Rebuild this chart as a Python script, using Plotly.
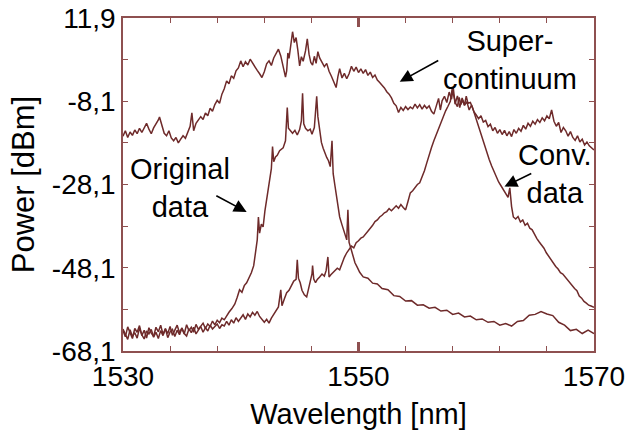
import plotly.graph_objects as go

# ---------------- data ----------------
sc_wl = [1530.0,1530.2,1530.4,1530.6,1530.8,1531.0,1531.2,1531.4,1531.6,1531.8,1532.0,1532.2,1532.4,1532.6,1532.8,1533.0,1533.1,1533.3,1533.5,1533.7,1533.9,1534.1,1534.3,1534.5,1534.7,1534.9,1535.1,1535.3,1535.5,1535.7,1535.85,1536.0,1536.2,1536.4,1536.6,1536.8,1537.0,1537.2,1537.4,1537.6,1537.8,1538.0,1538.2,1538.4,1538.6,1538.8,1539.0,1539.2,1539.4,1539.6,1539.8,1540.0,1540.2,1540.4,1540.6,1540.8,1541.0,1541.2,1541.4,1541.6,1541.8,1542.0,1542.2,1542.4,1542.6,1542.8,1543.0,1543.2,1543.4,1543.6,1543.8,1543.9,1544.0,1544.1,1544.25,1544.4,1544.55,1544.7,1544.85,1545.0,1545.15,1545.3,1545.5,1545.65,1545.8,1545.95,1546.1,1546.25,1546.4,1546.55,1546.7,1546.9,1547.1,1547.3,1547.5,1547.7,1547.9,1548.1,1548.25,1548.4,1548.6,1548.8,1549.0,1549.2,1549.4,1549.6,1549.8,1550.0,1550.2,1550.4,1550.6,1550.8,1551.0,1551.2,1551.4,1551.6,1551.8,1552.0,1552.2,1552.4,1552.6,1552.8,1553.0,1553.2,1553.4,1553.6,1553.8,1554.0,1554.2,1554.4,1554.6,1554.8,1555.0,1555.2,1555.4,1555.6,1555.8,1556.0,1556.2,1556.4,1556.6,1556.8,1556.95,1557.1,1557.3,1557.5,1557.7,1557.9,1558.05,1558.2,1558.4,1558.6,1558.8,1559.0,1559.2,1559.4,1559.6,1559.8,1560.0,1560.2,1560.4,1560.6,1560.8,1561.0,1561.2,1561.4,1561.6,1561.8,1562.0,1562.2,1562.4,1562.6,1562.8,1563.0,1563.2,1563.4,1563.6,1563.8,1564.0,1564.2,1564.4,1564.6,1564.8,1565.0,1565.2,1565.4,1565.6,1565.8,1566.0,1566.2,1566.4,1566.6,1566.8,1567.0,1567.2,1567.4,1567.6,1567.8,1568.0,1568.2,1568.4,1568.6,1568.8,1569.0,1569.2,1569.4,1569.6,1569.8,1570.0]
sc_pw = [-16.5,-15.2,-16.8,-15.5,-16.3,-15.0,-15.9,-14.6,-15.6,-14.3,-13.4,-14.8,-15.9,-14.5,-13.6,-12.6,-11.9,-14.0,-15.8,-16.4,-15.2,-16.9,-17.6,-16.8,-18.1,-17.2,-16.4,-17.0,-15.3,-14.1,-10.9,-15.2,-13.4,-12.6,-11.8,-12.5,-10.9,-11.6,-9.8,-10.5,-8.9,-7.9,-8.6,-6.4,-5.1,-3.2,-3.9,-2.0,-2.6,-0.8,-0.1,1.6,0.2,1.4,0.6,2.0,1.0,0.0,-0.7,-1.5,-2.4,-1.0,0.9,1.6,0.5,2.3,3.2,4.4,2.8,0.5,-2.3,-0.8,3.5,2.2,5.2,8.6,6.0,7.2,4.1,0.4,2.6,1.5,4.0,6.9,3.2,1.2,0.6,2.7,1.0,3.8,2.3,1.1,0.2,1.0,-0.9,-2.1,-3.6,-4.8,-2.2,-0.3,-2.5,-1.4,-2.7,-1.5,0.3,-0.9,0.1,-1.2,-0.3,-1.4,-0.5,-1.9,-1.1,-2.4,-1.8,-3.0,-3.6,-4.2,-4.9,-5.8,-6.4,-7.3,-8.6,-9.2,-10.8,-9.6,-10.3,-9.4,-10.1,-9.5,-9.9,-8.8,-9.7,-8.9,-10.0,-9.1,-9.8,-9.2,-10.5,-11.2,-9.4,-7.4,-10.2,-8.0,-6.9,-8.4,-5.9,-7.6,-4.9,-8.8,-6.8,-9.6,-7.3,-9.1,-8.2,-10.2,-9.0,-10.6,-11.4,-12.3,-11.6,-13.1,-12.7,-14.2,-13.6,-15.2,-14.4,-15.8,-14.9,-16.1,-15.1,-16.4,-15.4,-16.6,-14.9,-15.8,-14.6,-15.3,-13.9,-14.8,-13.4,-14.1,-12.9,-13.6,-12.5,-13.2,-12.1,-12.8,-11.6,-12.3,-10.2,-12.9,-14.1,-13.2,-15.6,-14.4,-15.2,-16.5,-15.4,-16.8,-17.5,-16.4,-17.9,-17.2,-18.6,-17.9,-18.8,-19.3,-19.8]

od_wl = [1530.0,1530.2,1530.4,1530.6,1530.8,1531.0,1531.2,1531.4,1531.6,1531.8,1532.0,1532.2,1532.4,1532.6,1532.8,1533.0,1533.2,1533.4,1533.6,1533.8,1534.0,1534.2,1534.4,1534.6,1534.8,1535.0,1535.2,1535.4,1535.6,1535.8,1536.0,1536.2,1536.4,1536.6,1536.8,1537.0,1537.2,1537.4,1537.6,1537.8,1538.0,1538.2,1538.4,1538.6,1538.8,1539.0,1539.25,1539.5,1539.7,1539.9,1540.1,1540.3,1540.5,1540.7,1540.9,1541.1,1541.25,1541.4,1541.5,1541.6,1541.75,1541.9,1542.05,1542.2,1542.35,1542.5,1542.6,1542.7,1542.8,1542.95,1543.1,1543.3,1543.45,1543.6,1543.8,1543.95,1544.05,1544.2,1544.4,1544.6,1544.8,1545.0,1545.15,1545.25,1545.35,1545.5,1545.7,1545.9,1546.05,1546.25,1546.45,1546.55,1546.7,1546.85,1547.0,1547.15,1547.3,1547.45,1547.6,1547.75,1547.85,1548.0,1548.2,1548.4,1548.6,1548.8,1549.0,1549.1,1549.2,1549.35,1549.5,1549.7,1549.9,1550.1,1550.4,1550.8,1551.2,1551.6,1552.0,1552.5,1553.0,1553.5,1554.0,1554.5,1555.0,1555.5,1556.0,1556.5,1557.0,1557.5,1558.0,1558.5,1559.0,1559.5,1560.0,1560.5,1561.0,1561.5,1562.0,1562.5,1563.0,1563.5,1564.0,1564.5,1565.0,1565.5,1566.0,1566.5,1567.0,1567.5,1568.0,1568.5,1569.0,1569.5,1570.0]
od_pw = [-63.2,-64.7,-62.3,-63.9,-65.1,-62.7,-63.6,-62.0,-64.4,-63.1,-65.0,-62.5,-63.8,-64.6,-62.4,-63.5,-61.9,-64.1,-62.8,-63.9,-62.2,-64.3,-63.0,-61.9,-63.7,-62.6,-64.0,-61.8,-63.2,-62.4,-63.6,-61.7,-62.9,-62.1,-61.4,-62.7,-61.6,-62.2,-60.9,-61.8,-60.7,-61.3,-60.2,-60.6,-59.6,-58.8,-57.9,-56.8,-55.2,-53.4,-54.0,-52.4,-51.7,-50.6,-49.3,-47.6,-44.6,-41.4,-35.9,-39.8,-37.6,-38.3,-34.5,-31.8,-28.6,-26.2,-24.3,-19.0,-22.6,-21.5,-21.1,-20.0,-19.6,-19.3,-17.6,-9.6,-14.6,-15.2,-15.8,-15.1,-16.2,-14.9,-12.8,-6.2,-13.5,-14.6,-15.2,-14.8,-16.0,-14.4,-6.9,-11.8,-15.6,-18.0,-19.4,-20.7,-21.6,-22.4,-23.8,-17.6,-25.5,-28.4,-32.0,-35.9,-37.8,-39.6,-41.4,-34.2,-42.0,-43.4,-45.2,-46.9,-48.0,-49.2,-50.3,-50.6,-51.8,-52.0,-53.1,-53.4,-54.8,-55.0,-56.1,-56.0,-57.1,-57.0,-57.8,-57.6,-58.5,-58.3,-59.3,-59.0,-59.9,-59.7,-60.6,-60.4,-61.2,-61.0,-61.9,-61.5,-62.1,-61.0,-60.8,-59.5,-59.3,-58.6,-59.2,-59.6,-61.2,-61.9,-63.2,-62.9,-63.9,-63.1,-63.9]

cd_wl = [1530.0,1530.2,1530.4,1530.6,1530.8,1531.0,1531.2,1531.4,1531.6,1531.8,1532.0,1532.2,1532.4,1532.6,1532.8,1533.0,1533.2,1533.4,1533.6,1533.8,1534.0,1534.2,1534.4,1534.6,1534.8,1535.0,1535.2,1535.4,1535.6,1535.8,1536.0,1536.2,1536.4,1536.6,1536.8,1537.0,1537.2,1537.4,1537.6,1537.8,1538.0,1538.2,1538.4,1538.6,1538.8,1539.0,1539.2,1539.4,1539.6,1539.8,1540.0,1540.2,1540.4,1540.6,1540.8,1541.0,1541.2,1541.4,1541.6,1541.8,1542.0,1542.2,1542.4,1542.6,1542.8,1543.0,1543.2,1543.4,1543.5,1543.7,1543.9,1544.1,1544.3,1544.5,1544.7,1544.8,1544.9,1545.05,1545.2,1545.4,1545.6,1545.75,1545.9,1546.05,1546.1,1546.2,1546.35,1546.5,1546.7,1546.9,1547.1,1547.25,1547.4,1547.5,1547.65,1547.8,1548.0,1548.2,1548.4,1548.6,1548.8,1549.0,1549.2,1549.4,1549.6,1549.8,1550.0,1550.2,1550.4,1550.6,1550.8,1551.0,1551.2,1551.4,1551.6,1551.8,1552.0,1552.2,1552.4,1552.6,1552.8,1553.0,1553.2,1553.4,1553.6,1553.8,1554.0,1554.2,1554.4,1554.6,1554.8,1555.0,1555.2,1555.4,1555.6,1555.8,1556.0,1556.2,1556.4,1556.6,1556.8,1557.0,1557.2,1557.4,1557.6,1557.8,1557.95,1558.1,1558.25,1558.4,1558.55,1558.7,1558.85,1559.0,1559.15,1559.3,1559.5,1559.7,1559.9,1560.1,1560.3,1560.5,1560.7,1560.9,1561.1,1561.3,1561.5,1561.7,1561.9,1562.1,1562.3,1562.5,1562.7,1562.85,1563.0,1563.15,1563.35,1563.55,1563.75,1563.95,1564.15,1564.35,1564.55,1564.75,1564.95,1565.15,1565.35,1565.55,1565.75,1565.95,1566.15,1566.35,1566.55,1566.75,1566.95,1567.15,1567.35,1567.55,1567.75,1567.95,1568.15,1568.35,1568.55,1568.75,1568.95,1569.15,1569.35,1569.55,1569.75,1570.0]
cd_pw = [-62.8,-64.1,-65.3,-63.0,-64.6,-63.7,-65.0,-62.6,-64.2,-65.2,-63.3,-64.0,-62.9,-64.8,-63.6,-65.1,-63.2,-64.4,-62.7,-64.9,-63.5,-62.9,-64.6,-63.1,-64.2,-62.6,-63.9,-64.5,-62.8,-63.7,-62.4,-64.0,-63.0,-62.2,-63.6,-62.5,-63.3,-61.9,-62.8,-62.3,-61.6,-62.7,-61.8,-62.1,-61.0,-61.9,-60.6,-61.4,-60.1,-61.0,-60.3,-59.4,-60.5,-59.2,-59.9,-58.8,-59.5,-58.6,-59.8,-60.6,-61.2,-60.5,-61.4,-60.2,-59.3,-58.6,-57.5,-53.4,-57.2,-55.6,-54.1,-53.5,-52.4,-51.3,-50.9,-46.2,-50.6,-51.7,-53.5,-54.6,-55.1,-53.0,-51.0,-49.6,-47.6,-50.8,-51.7,-50.9,-50.3,-49.6,-50.1,-48.8,-45.5,-50.3,-49.8,-49.3,-48.9,-48.2,-48.6,-46.9,-45.6,-44.5,-43.6,-42.9,-43.3,-42.1,-41.6,-41.0,-40.7,-39.9,-39.1,-38.6,-37.9,-37.0,-36.6,-35.9,-35.5,-34.9,-34.6,-33.9,-34.4,-33.7,-33.2,-33.8,-32.9,-33.6,-34.2,-32.2,-30.1,-29.6,-28.9,-28.1,-27.7,-26.4,-24.8,-22.9,-20.8,-19.2,-17.6,-16.1,-14.7,-12.9,-11.8,-10.4,-9.3,-8.1,-5.2,-7.0,-8.6,-9.4,-7.2,-8.9,-7.8,-9.0,-6.9,-8.6,-8.4,-9.8,-11.6,-13.2,-15.1,-17.0,-18.8,-20.4,-22.1,-23.6,-24.9,-26.4,-27.5,-28.4,-29.4,-30.2,-31.2,-28.9,-33.4,-35.9,-36.4,-35.8,-37.1,-36.6,-37.9,-37.4,-38.6,-39.0,-40.2,-41.1,-41.9,-42.6,-43.4,-44.5,-45.3,-46.4,-46.9,-47.8,-48.4,-49.3,-49.6,-50.3,-51.1,-51.6,-52.4,-53.1,-53.6,-54.9,-55.4,-56.2,-56.6,-57.1,-57.3,-57.6]

x_tickvals = [1530, 1550, 1570]
x_ticktext = ["1530", "1550", "1570"]
y_tickvals = [11.9, -8.1, -28.1, -48.1, -68.1]
y_ticktext = ["11,9", "-8,1", "-28,1", "-48,1", "-68,1"]
y_minorvals = [1.9, -18.1, -38.1, -58.1]

labels = ["Super-<br>continuum", "Original<br>data", "Conv.<br>data"]
label_pos = [(1562.9, 1.7), (1534.8, -29.0), (1566.7, -25.6)]
arrows = [((1556.9, 1.9), (1553.5, -3.4)),
          ((1537.8, -30.6), (1540.5, -34.7)),
          ((1564.8, -25.3), (1562.4, -28.6))]

# ---------------- figure ----------------
LINE = "#6E2A2A"
AXIS = "#8E5050"
FONT = "Liberation Sans, Arial, sans-serif"

fig = go.Figure()
for wl, pw in [(sc_wl, sc_pw), (cd_wl, cd_pw), (od_wl, od_pw)]:
    fig.add_trace(go.Scatter(x=wl, y=pw, mode="lines",
                             line=dict(color=LINE, width=1.5), showlegend=False))

for txt, (lx, ly) in zip(labels, label_pos):
    fig.add_annotation(x=lx, y=ly, xref="x", yref="y", text=txt, showarrow=False,
                       font=dict(family=FONT, size=29, color="black"),
                       align="center", xanchor="center", yanchor="middle")
for (tail, head) in arrows:
    fig.add_annotation(x=head[0], y=head[1], ax=tail[0], ay=tail[1],
                       xref="x", yref="y", axref="x", ayref="y", text="",
                       showarrow=True, arrowhead=2, arrowsize=1.6, arrowwidth=1.6,
                       arrowcolor="black", standoff=0, startstandoff=0)

fig.update_layout(
    width=628, height=440,
    margin=dict(l=123, r=34, t=18, b=89),
    paper_bgcolor="white", plot_bgcolor="white",
    font=dict(family=FONT, size=28, color="black"),
    xaxis=dict(range=[1530, 1570], tickvals=x_tickvals, ticktext=x_ticktext,
               automargin=False,
               ticks="inside", ticklen=9, tickwidth=3, tickcolor=AXIS,
               minor=dict(tickmode="linear", tick0=1530, dtick=4, ticks="inside",
                          ticklen=5, tickwidth=1.3, tickcolor=AXIS),
               showline=True, linecolor=AXIS, linewidth=1.5, mirror="ticks",
               showgrid=False, zeroline=False,
               title=dict(text="Wavelength [nm]", font=dict(size=29), standoff=12),
               tickfont=dict(size=28)),
    yaxis=dict(range=[-68.1, 11.9], tickvals=y_tickvals, ticktext=y_ticktext,
               automargin=False,
               ticks="inside", ticklen=5, tickwidth=1.3, tickcolor=AXIS,
               minor=dict(tickvals=y_minorvals, ticks="inside",
                          ticklen=5, tickwidth=1.3, tickcolor=AXIS),
               showline=True, linecolor=AXIS, linewidth=1.5, mirror="ticks",
               showgrid=False, zeroline=False,
               title=dict(text="Power [dBm]", font=dict(size=31), standoff=8),
               tickfont=dict(size=28)),
)

fig.write_html("out.html")
